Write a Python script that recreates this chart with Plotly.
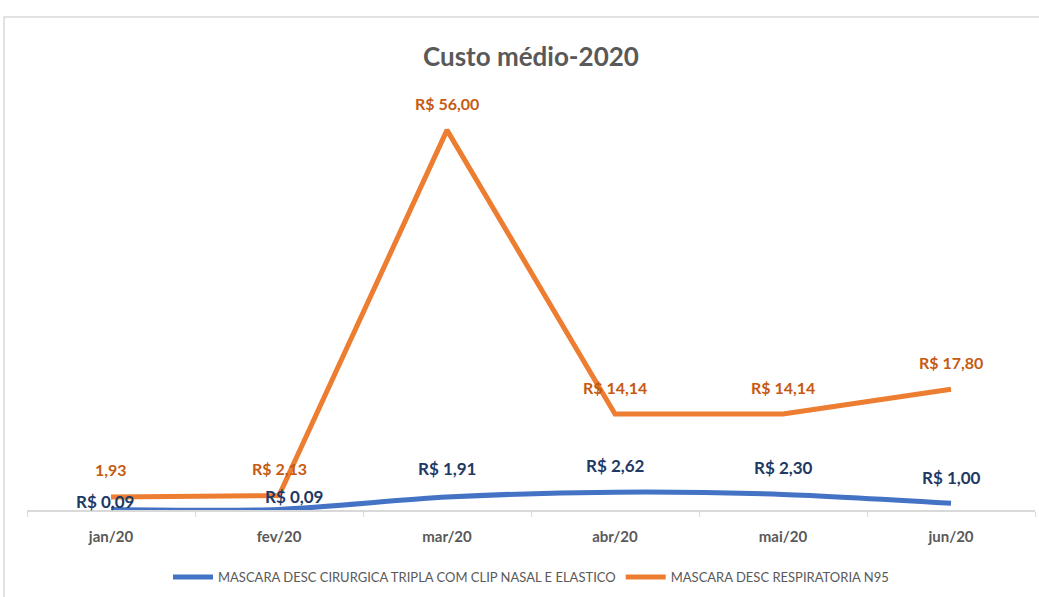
import plotly.graph_objects as go

months = ["jan/20", "fev/20", "mar/20", "abr/20", "mai/20", "jun/20"]
cirurgica = [0.09, 0.09, 1.91, 2.62, 2.30, 1.00]
n95 = [1.93, 2.13, 56.00, 14.14, 14.14, 17.80]
cirurgica_labels = ["R$ 0,09", "R$ 0,09", "R$ 1,91", "R$ 2,62", "R$ 2,30", "R$ 1,00"]
n95_labels = ["1,93", "R$ 2,13", "R$ 56,00", "R$ 14,14", "R$ 14,14", "R$ 17,80"]
series_names = ["MASCARA DESC CIRURGICA TRIPLA COM CLIP NASAL E ELASTICO",
                "MASCARA DESC RESPIRATORIA N95"]

FONT = "Lato, Liberation Sans Narrow, sans-serif"
BLUE = "#4472C4"
ORANGE = "#ED7D31"
BLUE_TXT = "#1F3864"
ORANGE_TXT = "#C55A11"

fig = go.Figure()
fig.add_trace(go.Scatter(x=months, y=cirurgica, mode="lines", name=series_names[0],
                         line=dict(color=BLUE, width=5, shape="spline", smoothing=0.8)))
fig.add_trace(go.Scatter(x=months, y=n95, mode="lines", name=series_names[1],
                         line=dict(color=ORANGE, width=5)))

for i, m in enumerate(months):
    fig.add_annotation(x=m, y=n95[i], text=n95_labels[i], showarrow=False,
                       yshift=27, font=dict(family=FONT, size=16, color=ORANGE_TXT, weight="bold"))

blue_shifts = [(-6, 8), (15, 13), (0, 29), (0, 27), (0, 27), (0, 26)]
for i, m in enumerate(months):
    dx, dy = blue_shifts[i]
    fig.add_annotation(x=m, y=cirurgica[i], text=cirurgica_labels[i], showarrow=False,
                       xshift=dx, yshift=dy,
                       font=dict(family=FONT, size=17, color=BLUE_TXT, weight="bold"))

# chart frame
fig.add_shape(type="rect", xref="paper", yref="paper",
              x0=-0.0228, x1=1.01, y0=-0.3, y1=1.211,
              line=dict(color="#D9D9D9", width=1.5), fillcolor="rgba(0,0,0,0)", layer="below")

fig.update_layout(
    width=1039, height=597,
    margin=dict(l=27, r=4, t=103, b=87),
    paper_bgcolor="white", plot_bgcolor="white",
    title=dict(text="Custo médio-2020", x=0.511, xanchor="center", y=0.905, yanchor="middle",
               font=dict(family=FONT, size=26, color="#595959", weight="bold")),
    xaxis=dict(type="category", range=[-0.5, 5.5], tickson="boundaries", ticks="outside", ticklen=5,
               tickcolor="#D9D9D9", showline=True, linecolor="#D9D9D9", linewidth=1.5,
               showgrid=False, zeroline=False, ticklabelstandoff=12,
               tickfont=dict(family=FONT, size=15, color="#595959", weight="bold")),
    yaxis=dict(range=[0, 60], visible=False, showgrid=False, zeroline=False),
    legend=dict(orientation="h", x=0.5, xanchor="center", y=-0.165, yanchor="middle",
                font=dict(family=FONT, size=13, color="#595959"), itemwidth=40),
    showlegend=True,
)

fig.write_html("out.html")
